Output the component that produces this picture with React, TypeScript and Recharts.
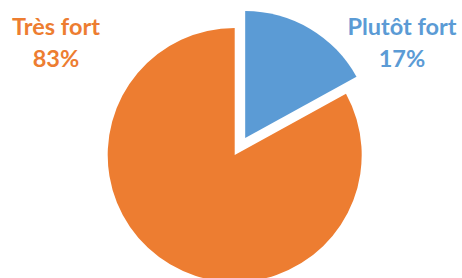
import React from "react";
import { PieChart, Pie, Cell } from "recharts";

const categories = ["Plutôt fort", "Très fort"];
const values = [17, 83];
const percentLabels = ["17%", "83%"];
const colors = ["#5B9BD5", "#ED7D31"];

const data = categories.map((name, i) => ({ name, value: values[i] }));

const LABEL_POS = [
  { x: 402, y: 35 },
  { x: 56, y: 35 },
];

const renderLabel = (props: any) => {
  const i = props.index;
  const p = LABEL_POS[i];
  return (
    <text
      key={`lbl-${i}`}
      x={p.x}
      textAnchor="middle"
      fill={colors[i]}
      fontFamily="Lato, 'Open Sans', sans-serif"
      fontWeight={700}
      fontSize={23.5}
    >
      <tspan x={p.x} y={p.y}>{categories[i]}</tspan>
      <tspan x={p.x} y={p.y + 32}>{percentLabels[i]}</tspan>
    </text>
  );
};

export default function App() {
  return (
    <div style={{ position: "absolute", left: 0, top: 0, width: 462, height: 278, background: "#fff" }}>
      <PieChart width={462} height={278} margin={{ top: 0, right: 0, bottom: 0, left: 0 }}>
        <Pie
          data={data}
          dataKey="value"
          nameKey="name"
          cx={234.7}
          cy={155}
          outerRadius={127}
          startAngle={90}
          endAngle={-270}
          stroke="none"
          isAnimationActive={false}
          label={renderLabel}
          labelLine={false}
        >
          {data.map((d, i) => (
            <Cell key={d.name} fill={i === 1 ? colors[1] : "transparent"} />
          ))}
        </Pie>
        <Pie
          data={data}
          dataKey="value"
          nameKey="name"
          cx={245.2}
          cy={138.0}
          outerRadius={127}
          startAngle={90}
          endAngle={-270}
          stroke="none"
          isAnimationActive={false}
          label={false}
          labelLine={false}
        >
          {data.map((d, i) => (
            <Cell key={d.name} fill={i === 0 ? colors[0] : "transparent"} />
          ))}
        </Pie>
      </PieChart>
    </div>
  );
}
